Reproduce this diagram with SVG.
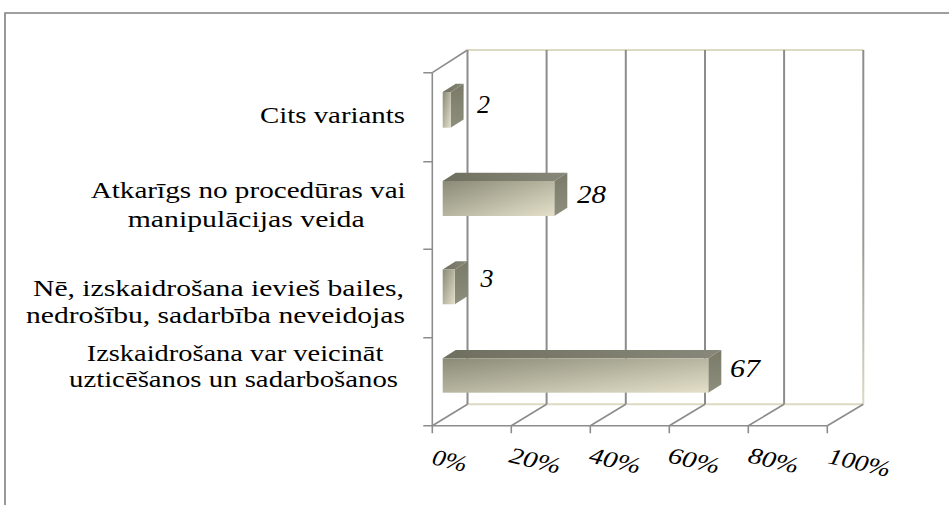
<svg xmlns="http://www.w3.org/2000/svg" width="949" height="505" viewBox="0 0 949 505">
<defs>
<linearGradient id="gFront" x1="0" y1="0" x2="1" y2="1">
<stop offset="0" stop-color="#8a8a76"/>
<stop offset="1" stop-color="#e4e0ca"/>
</linearGradient>
<linearGradient id="gTop" x1="0" y1="0" x2="1" y2="0">
<stop offset="0" stop-color="#6f6f5f"/>
<stop offset="1" stop-color="#88887a"/>
</linearGradient>
<linearGradient id="gSide" x1="0" y1="0" x2="0" y2="1">
<stop offset="0" stop-color="#7a7a69"/>
<stop offset="1" stop-color="#8e8e7c"/>
</linearGradient>
<linearGradient id="gRight" gradientUnits="userSpaceOnUse" x1="0" y1="50" x2="0" y2="404">
<stop offset="0" stop-color="#8c8c8c"/>
<stop offset="0.55" stop-color="#9a9a94"/>
<stop offset="1" stop-color="#ddd9c3"/>
</linearGradient>
</defs>
<rect width="949" height="505" fill="#fff"/>
<g id="frame">
<path d="M5 505 V13 H949" fill="none" stroke="#808080" stroke-width="1.6"/>
</g>
<g id="walls" fill="none" stroke-width="2">
<g stroke="#ddd9c3">
<line x1="467.5" y1="50" x2="863.3" y2="50"/>
<line x1="467.5" y1="404.3" x2="863.3" y2="404.3"/>
</g>
<g stroke="#8c8c8c">
<line x1="467.5" y1="50" x2="467.5" y2="404.3"/>
<line x1="546.6" y1="50" x2="546.6" y2="404.3"/>
<line x1="625.8" y1="50" x2="625.8" y2="404.3"/>
<line x1="705" y1="50" x2="705" y2="404.3"/>
<line x1="784.1" y1="50" x2="784.1" y2="404.3"/>
</g>
<line x1="863.3" y1="50" x2="863.3" y2="404.3" stroke="url(#gRight)"/>
</g>
<g id="axes" fill="none" stroke="#8c8c8c" stroke-width="1.6">
<line x1="432.3" y1="72.7" x2="432.3" y2="425.7"/>
<line x1="432.3" y1="72.7" x2="467.5" y2="50"/>
<line x1="432.3" y1="425.7" x2="827.3" y2="425.7"/>
<line x1="432.3" y1="425.7" x2="467.5" y2="404.3"/>
<line x1="511.3" y1="425.7" x2="546.6" y2="404.3"/>
<line x1="590.3" y1="425.7" x2="625.8" y2="404.3"/>
<line x1="669.3" y1="425.7" x2="705" y2="404.3"/>
<line x1="748.3" y1="425.7" x2="784.1" y2="404.3"/>
<line x1="827.3" y1="425.7" x2="863.3" y2="404.3"/>
<path d="M423.3 72.7H432.3M423.3 161.7H432.3M423.3 249.3H432.3M423.3 337.7H432.3M423.3 425.7H432.3"/>
<path d="M432.3 425.7V433.3M511.3 425.7V433.3M590.3 425.7V433.3M669.3 425.7V433.3M748.3 425.7V433.3M827.3 425.7V433.3"/>
</g>
<g id="bar1">
<polygon fill="url(#gTop)" points="442.7,92 455.7,83.7 463.6,83.7 450.6,92"/>
<polygon fill="url(#gSide)" points="450.6,92 463.6,83.7 463.6,119.4 450.6,127.7"/>
<rect fill="url(#gFront)" x="442.7" y="92" width="7.9" height="35.7"/>
</g>
<g id="bar2">
<polygon fill="url(#gTop)" points="442.7,181 455.7,172.7 567.3,172.7 554.3,181"/>
<polygon fill="url(#gSide)" points="554.3,181 567.3,172.7 567.3,207.7 554.3,216"/>
<rect fill="url(#gFront)" x="442.7" y="181" width="111.6" height="35"/>
</g>
<g id="bar3">
<polygon fill="url(#gTop)" points="442.7,269.5 455.7,261.2 467.8,261.2 454.8,269.5"/>
<polygon fill="url(#gSide)" points="454.8,269.5 467.8,261.2 467.8,296 454.8,304.3"/>
<rect fill="url(#gFront)" x="442.7" y="269.5" width="12.1" height="34.8"/>
</g>
<g id="bar4">
<polygon fill="url(#gTop)" points="442.7,358.3 455.7,350 721.3,350 708.3,358.3"/>
<polygon fill="url(#gSide)" points="708.3,358.3 721.3,350 721.3,384.4 708.3,392.7"/>
<rect fill="url(#gFront)" x="442.7" y="358.3" width="265.6" height="34.4"/>
</g>
<g id="values" fill="#000">
<text x="477" y="113.3" font-family="Times New Roman, Liberation Serif, serif" font-size="25" font-style="italic" textLength="13" lengthAdjust="spacingAndGlyphs">2</text>
<text x="577" y="203.3" font-family="Times New Roman, Liberation Serif, serif" font-size="25" font-style="italic" textLength="29" lengthAdjust="spacingAndGlyphs">28</text>
<text x="480.5" y="286.7" font-family="Times New Roman, Liberation Serif, serif" font-size="25" font-style="italic" textLength="13" lengthAdjust="spacingAndGlyphs">3</text>
<text x="730" y="376.7" font-family="Times New Roman, Liberation Serif, serif" font-size="25" font-style="italic" textLength="30" lengthAdjust="spacingAndGlyphs">67</text>
</g>
<g id="categories" fill="#000">
<text x="260" y="123.3" font-family="Times New Roman, Liberation Serif, serif" font-size="24" textLength="145" lengthAdjust="spacingAndGlyphs">Cits variants</text>
<text x="90.7" y="198.3" font-family="Times New Roman, Liberation Serif, serif" font-size="24" textLength="315" lengthAdjust="spacingAndGlyphs">Atkarīgs no procedūras vai</text>
<text x="127.7" y="226.5" font-family="Times New Roman, Liberation Serif, serif" font-size="24" textLength="237" lengthAdjust="spacingAndGlyphs">manipulācijas veida</text>
<text x="33" y="295.5" font-family="Times New Roman, Liberation Serif, serif" font-size="24" textLength="371" lengthAdjust="spacingAndGlyphs">Nē, izskaidrošana ievieš bailes,</text>
<text x="26" y="323" font-family="Times New Roman, Liberation Serif, serif" font-size="24" textLength="379" lengthAdjust="spacingAndGlyphs">nedrošību, sadarbība neveidojas</text>
<text x="86.7" y="360.7" font-family="Times New Roman, Liberation Serif, serif" font-size="24" textLength="296.6" lengthAdjust="spacingAndGlyphs">Izskaidrošana var veicināt</text>
<text x="69" y="387.3" font-family="Times New Roman, Liberation Serif, serif" font-size="24" textLength="329" lengthAdjust="spacingAndGlyphs">uzticēšanos un sadarbošanos</text>
</g>
<g id="xlabels" fill="#000">
<text x="431" y="464" transform="rotate(13 431 464)" font-family="Times New Roman, Liberation Serif, serif" font-size="23" font-style="italic" textLength="35" lengthAdjust="spacingAndGlyphs">0%</text>
<text x="508" y="462" transform="rotate(13 508 462)" font-family="Times New Roman, Liberation Serif, serif" font-size="23" font-style="italic" textLength="52" lengthAdjust="spacingAndGlyphs">20%</text>
<text x="588" y="462" transform="rotate(13 588 462)" font-family="Times New Roman, Liberation Serif, serif" font-size="23" font-style="italic" textLength="52" lengthAdjust="spacingAndGlyphs">40%</text>
<text x="667" y="462" transform="rotate(13 667 462)" font-family="Times New Roman, Liberation Serif, serif" font-size="23" font-style="italic" textLength="52" lengthAdjust="spacingAndGlyphs">60%</text>
<text x="747" y="462" transform="rotate(13 747 462)" font-family="Times New Roman, Liberation Serif, serif" font-size="23" font-style="italic" textLength="51" lengthAdjust="spacingAndGlyphs">80%</text>
<text x="827" y="463" transform="rotate(13 827 463)" font-family="Times New Roman, Liberation Serif, serif" font-size="23" font-style="italic" textLength="63" lengthAdjust="spacingAndGlyphs">100%</text>
</g>
</svg>
